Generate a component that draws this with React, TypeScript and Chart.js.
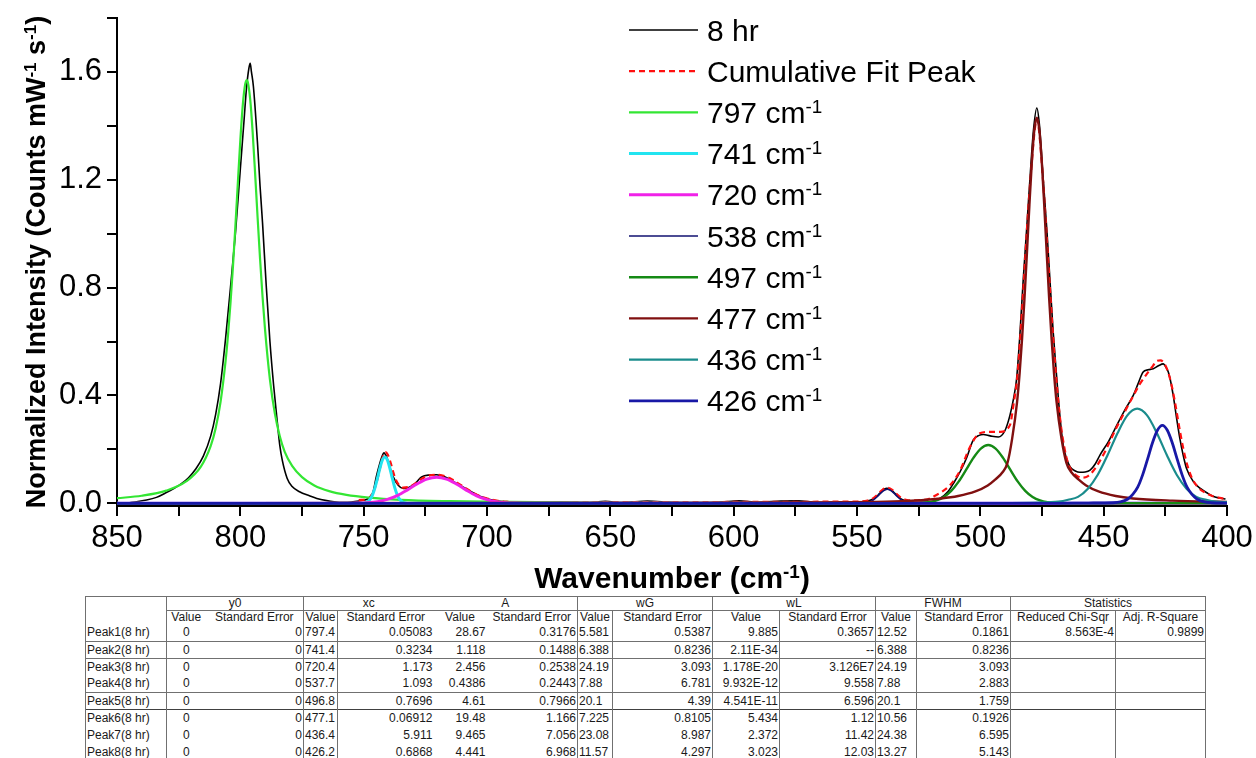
import React, { useEffect, useRef } from 'react';
import { Chart, registerables } from 'chart.js';

Chart.register(...registerables);

const FONT = "'Liberation Sans', Arial, Helvetica, sans-serif";

// ---------------- Spectrum (8 hr) ----------------
const SPEC_X = [845, 842, 838, 834, 830, 827, 824, 821, 818, 815, 812, 810, 808, 806, 804, 802, 800, 798.5, 797.5, 796.5, 796, 795.5, 794.7, 793, 792, 791, 789.5, 788, 786.5, 785, 784, 783, 781, 779, 776, 772, 769, 765, 762, 758, 755, 752, 750, 748.5, 747.5, 746.2, 744.9, 743.5, 742.5, 741.8, 740.7, 739.4, 738, 736, 734, 731.9, 729.2, 726.5, 723.1, 720.4, 717.7, 715, 711, 706.9, 702.9, 698.8, 694.8, 690, 680, 670, 660, 652, 645, 635, 625, 615, 605, 598, 590, 581, 574, 566, 558, 552, 548, 545, 543, 541, 539.5, 538, 536.5, 535, 533, 531, 528, 524, 520, 516.4, 513, 510.5, 508.2, 505.5, 502.9, 500.5, 498.8, 496, 492.7, 490, 488, 486.5, 485.3, 484, 482.6, 481.2, 479.9, 478.5, 477.1, 476, 474.5, 473, 471.8, 470.5, 469, 467.7, 466.4, 465, 463.6, 461.5, 459.6, 457.5, 455.5, 453.5, 451.5, 448, 444.7, 441.5, 438, 436, 434, 432, 429.9, 427.8, 425.8, 424.8, 423.8, 422.8, 421.8, 420.5, 419.1, 417.8, 416.4, 413.6, 410.8, 408, 405.4, 402.5, 400.6];
const SPEC_Y = [0.002, 0.006, 0.012, 0.022, 0.040, 0.055, 0.072, 0.095, 0.128, 0.175, 0.250, 0.330, 0.445, 0.610, 0.800, 1.000, 1.240, 1.420, 1.540, 1.615, 1.632, 1.600, 1.546, 1.330, 1.176, 1.040, 0.807, 0.600, 0.437, 0.300, 0.215, 0.160, 0.092, 0.062, 0.043, 0.028, 0.018, 0.010, 0.006, 0.004, 0.005, 0.008, 0.011, 0.016, 0.023, 0.042, 0.098, 0.147, 0.175, 0.187, 0.172, 0.135, 0.098, 0.067, 0.055, 0.058, 0.073, 0.098, 0.105, 0.106, 0.100, 0.088, 0.067, 0.046, 0.026, 0.014, 0.007, 0.004, 0.003, 0.005, 0.003, 0.007, 0.003, 0.008, 0.004, 0.003, 0.005, 0.009, 0.004, 0.008, 0.009, 0.004, 0.006, 0.005, 0.006, 0.010, 0.018, 0.035, 0.050, 0.056, 0.052, 0.040, 0.022, 0.011, 0.006, 0.005, 0.006, 0.018, 0.045, 0.080, 0.117, 0.170, 0.234, 0.252, 0.255, 0.250, 0.246, 0.270, 0.326, 0.390, 0.462, 0.620, 0.831, 1.020, 1.201, 1.380, 1.466, 1.400, 1.201, 1.010, 0.831, 0.640, 0.462, 0.320, 0.216, 0.165, 0.135, 0.120, 0.115, 0.116, 0.123, 0.145, 0.179, 0.230, 0.289, 0.345, 0.400, 0.445, 0.487, 0.495, 0.499, 0.510, 0.517, 0.505, 0.487, 0.450, 0.400, 0.320, 0.240, 0.180, 0.129, 0.080, 0.055, 0.038, 0.025, 0.019, 0.016];

// ---------------- Cumulative fit ----------------
const CUM_X = [752, 748, 746.5, 745, 744, 743, 742, 741.2, 740.2, 739, 738, 737, 735.5, 734, 732, 730, 727.5, 724.5, 721, 718, 715, 712, 709, 706, 703, 700, 696, 692, 688, 680, 650, 600, 560, 548, 545.7, 543.7, 541.7, 539.7, 537.7, 535.7, 533.7, 531.7, 529.7, 527, 524, 521, 518, 516, 512.3, 508.2, 504.2, 500.2, 496.1, 492, 488, 486.5, 485, 483.5, 482, 480.5, 479, 478, 477.1, 476.3, 475, 473.5, 472, 470.5, 469, 467.5, 466, 464.5, 462.5, 460.5, 458.5, 456.5, 454.5, 452, 449, 445.5, 442, 438.5, 435.5, 432.5, 430, 428.5, 427, 425.5, 424, 422.5, 421, 419.5, 418, 416.5, 414.5, 412, 409, 406, 403, 400];
const CUM_Y = [0.012, 0.018, 0.035, 0.070, 0.105, 0.145, 0.178, 0.190, 0.180, 0.148, 0.115, 0.088, 0.066, 0.058, 0.060, 0.068, 0.085, 0.100, 0.106, 0.103, 0.093, 0.076, 0.058, 0.041, 0.027, 0.018, 0.010, 0.006, 0.004, 0.004, 0.004, 0.005, 0.006, 0.007, 0.010, 0.017, 0.032, 0.050, 0.058, 0.050, 0.032, 0.018, 0.012, 0.011, 0.012, 0.016, 0.030, 0.040, 0.067, 0.122, 0.209, 0.260, 0.265, 0.265, 0.290, 0.370, 0.470, 0.660, 0.880, 1.100, 1.280, 1.380, 1.425, 1.390, 1.250, 1.050, 0.830, 0.620, 0.440, 0.300, 0.210, 0.150, 0.115, 0.100, 0.095, 0.100, 0.117, 0.150, 0.200, 0.268, 0.330, 0.390, 0.440, 0.480, 0.510, 0.528, 0.530, 0.520, 0.490, 0.440, 0.370, 0.290, 0.215, 0.155, 0.100, 0.062, 0.040, 0.027, 0.020, 0.015];

// ---------------- Fitted peaks ----------------
const P797_X = [850, 840, 830, 822, 816, 812, 810, 808, 806, 805, 804, 803, 802, 801, 800, 799, 798, 797.4, 797, 796, 795, 794, 793, 792, 791, 790, 788, 786, 784, 782, 779, 775, 770, 764, 757, 748, 735, 715, 690, 650, 600, 500, 400];
const P797_Y = [0.019, 0.028, 0.047, 0.081, 0.136, 0.213, 0.278, 0.377, 0.526, 0.624, 0.741, 0.877, 1.029, 1.190, 1.347, 1.478, 1.556, 1.570, 1.564, 1.498, 1.376, 1.222, 1.060, 0.906, 0.767, 0.646, 0.459, 0.333, 0.249, 0.191, 0.139, 0.097, 0.066, 0.045, 0.031, 0.021, 0.013, 0.008, 0.005, 0.002, 0.0014, 0.0007, 0.0004];

const P741_X = [850, 752, 749.4, 748.4, 747.4, 746.4, 745.4, 744.4, 743.4, 742.4, 741.4, 740.4, 739.4, 738.4, 737.4, 736.4, 735.4, 734.4, 733.4, 731, 400];
const P741_Y = [0, 0, 0.0022, 0.0062, 0.0149, 0.0315, 0.058, 0.0933, 0.131, 0.161, 0.172, 0.161, 0.131, 0.0933, 0.058, 0.0315, 0.0149, 0.0062, 0.0022, 0, 0];

const P720_X = [850, 756, 752.4, 748.4, 744.4, 740.4, 736.4, 732.4, 728.4, 724.4, 720.4, 716.4, 712.4, 708.4, 704.4, 700.4, 696.4, 692.4, 688.4, 684, 400];
const P720_Y = [0, 0, 0.0008, 0.0024, 0.0063, 0.0146, 0.0288, 0.049, 0.0716, 0.0899, 0.097, 0.0899, 0.0716, 0.049, 0.0288, 0.0146, 0.0063, 0.0024, 0.0008, 0, 0];

const P538_X = [850, 550, 547.7, 545.7, 544.7, 543.7, 542.7, 541.7, 540.7, 539.7, 538.7, 537.7, 536.7, 535.7, 534.7, 533.7, 532.7, 531.7, 530.7, 529.7, 527.7, 525, 400];
const P538_Y = [0, 0, 0.0006, 0.003, 0.0058, 0.0104, 0.017, 0.0254, 0.0348, 0.0435, 0.0497, 0.052, 0.0497, 0.0435, 0.0348, 0.0254, 0.017, 0.0104, 0.0058, 0.003, 0.0006, 0, 0];

const P497_X = [850, 532, 526.8, 523.8, 520.8, 517.8, 514.8, 511.8, 508.8, 505.8, 502.8, 499.8, 496.8, 493.8, 490.8, 487.8, 484.8, 481.8, 478.8, 475.8, 472.8, 469.8, 466.8, 462, 400];
const P497_Y = [0, 0, 0.0004, 0.0015, 0.0041, 0.0105, 0.0234, 0.0461, 0.0804, 0.1239, 0.1687, 0.203, 0.216, 0.203, 0.1687, 0.1239, 0.0804, 0.0461, 0.0234, 0.0105, 0.0041, 0.0015, 0.0004, 0, 0];

const P477_X = [850, 700, 627, 577, 532, 516, 509, 502, 497, 494, 491, 489, 487.1, 485.1, 484.1, 483.1, 482.1, 481.1, 480.1, 479.1, 478.1, 477.1, 476.1, 475.1, 474.1, 473.1, 472.1, 471.1, 470.1, 469.1, 467.1, 465.1, 463.1, 460.1, 457.1, 452.1, 445.1, 438.1, 422.1, 400];
const P477_Y = [0.0005, 0.001, 0.0015, 0.003, 0.008, 0.018, 0.027, 0.044, 0.066, 0.088, 0.115, 0.150, 0.240, 0.376, 0.479, 0.608, 0.760, 0.930, 1.107, 1.269, 1.386, 1.430, 1.386, 1.269, 1.107, 0.930, 0.760, 0.608, 0.479, 0.376, 0.240, 0.150, 0.115, 0.088, 0.066, 0.044, 0.027, 0.018, 0.010, 0.005];

const P436_X = [850, 500, 480, 472.4, 468.4, 464.4, 460.4, 456.4, 452.4, 448.4, 444.4, 440.4, 436.4, 432.4, 428.4, 424.4, 420.4, 416.4, 412.4, 408.4, 404.4, 400];
const P436_Y = [0, 0.001, 0.002, 0.004, 0.006, 0.013, 0.0239, 0.0543, 0.106, 0.179, 0.260, 0.326, 0.351, 0.326, 0.260, 0.179, 0.106, 0.0543, 0.0239, 0.013, 0.006, 0.004];

const P426_X = [850, 470, 456.2, 446.2, 443.2, 440.2, 438.2, 436.2, 434.2, 432.2, 430.2, 428.2, 426.2, 424.2, 422.2, 420.2, 418.2, 416.2, 414.2, 412.2, 409.2, 406.2, 400];
const P426_Y = [0, 0, 0.001, 0.002, 0.005, 0.016, 0.033, 0.0598, 0.1055, 0.164, 0.2247, 0.271, 0.289, 0.271, 0.2247, 0.164, 0.1055, 0.0598, 0.033, 0.016, 0.005, 0.002, 0.001];

// ---------------- Series meta ----------------
const SERIES_NAMES = ['8 hr', 'Cumulative Fit Peak', '797', '741', '720', '538', '497', '477', '436', '426'];
const SERIES_COLORS = ['#000000', '#ff1010', '#33e633', '#22e4f0', '#f022e8', '#101070', '#158a15', '#801010', '#1a8c8c', '#1818a6'];
const SERIES_WIDTHS = [1.6, 2.2, 2.2, 3, 3, 1.6, 2.4, 2.4, 2.2, 2.8];
const SERIES_ORDER = [11, 10, 9, 8, 7, 6, 5, 4, 3, 2];
const SERIES_X = [SPEC_X, CUM_X, P797_X, P741_X, P720_X, P538_X, P497_X, P477_X, P436_X, P426_X];
const SERIES_Y = [SPEC_Y, CUM_Y, P797_Y, P741_Y, P720_Y, P538_Y, P497_Y, P477_Y, P436_Y, P426_Y];

// ---------------- Table ----------------
const ROW_NAMES = ['Peak1(8 hr)', 'Peak2(8 hr)', 'Peak3(8 hr)', 'Peak4(8 hr)', 'Peak5(8 hr)', 'Peak6(8 hr)', 'Peak7(8 hr)', 'Peak8(8 hr)'];
const Y0_VAL = ['0', '0', '0', '0', '0', '0', '0', '0'];
const Y0_SE = ['0', '0', '0', '0', '0', '0', '0', '0'];
const XC_VAL = ['797.4', '741.4', '720.4', '537.7', '496.8', '477.1', '436.4', '426.2'];
const XC_SE = ['0.05083', '0.3234', '1.173', '1.093', '0.7696', '0.06912', '5.911', '0.6868'];
const A_VAL = ['28.67', '1.118', '2.456', '0.4386', '4.61', '19.48', '9.465', '4.441'];
const A_SE = ['0.3176', '0.1488', '0.2538', '0.2443', '0.7966', '1.166', '7.056', '6.968'];
const WG_VAL = ['5.581', '6.388', '24.19', '7.88', '20.1', '7.225', '23.08', '11.57'];
const WG_SE = ['0.5387', '0.8236', '3.093', '6.781', '4.39', '0.8105', '8.987', '4.297'];
const WL_VAL = ['9.885', '2.11E-34', '1.178E-20', '9.932E-12', '4.541E-11', '5.434', '2.372', '3.023'];
const WL_SE = ['0.3657', '--', '3.126E7', '9.558', '6.596', '1.12', '11.42', '12.03'];
const FWHM_VAL = ['12.52', '6.388', '24.19', '7.88', '20.1', '10.56', '24.38', '13.27'];
const FWHM_SE = ['0.1861', '0.8236', '3.093', '2.883', '1.759', '0.1926', '6.595', '5.143'];
const CHI_SQR = ['8.563E-4', '', '', '', '', '', '', ''];
const ADJ_R2 = ['0.9899', '', '', '', '', '', '', ''];
const GROUPS = ['y0', 'xc', 'A', 'wG', 'wL', 'FWHM', 'Statistics'];
const SUB_HEADERS = ['Value', 'Standard Error', 'Value', 'Standard Error', 'Value', 'Standard Error', 'Value', 'Standard Error', 'Value', 'Standard Error', 'Value', 'Standard Error', 'Reduced Chi-Sqr', 'Adj. R-Square'];

type Part = { t: string; sup?: boolean };

function fnt(size: number, bold: boolean) {
  return `${bold ? 'bold ' : ''}${size}px ${FONT}`;
}
function richWidth(ctx: CanvasRenderingContext2D, parts: Part[], size: number, bold: boolean) {
  let w = 0;
  for (const p of parts) {
    ctx.font = fnt(p.sup ? size * 0.63 : size, bold);
    w += ctx.measureText(p.t).width;
  }
  return w;
}
function drawRich(ctx: CanvasRenderingContext2D, parts: Part[], x: number, y: number, size: number, bold: boolean) {
  let cx = x;
  for (const p of parts) {
    const s = p.sup ? size * 0.63 : size;
    ctx.font = fnt(s, bold);
    ctx.fillText(p.t, cx, p.sup ? y - size * 0.33 : y);
    cx += ctx.measureText(p.t).width;
  }
}
function labelParts(name: string): Part[] {
  if (/^\d+$/.test(name)) return [{ t: name + ' cm' }, { t: '-1', sup: true }];
  return [{ t: name }];
}

const overlayPlugin = {
  id: 'overlay',
  afterDraw(chart: any) {
    const ctx: CanvasRenderingContext2D = chart.ctx;
    const area = chart.chartArea;
    ctx.save();
    ctx.fillStyle = '#000';
    ctx.textAlign = 'left';
    ctx.textBaseline = 'alphabetic';
    // legend
    chart.data.datasets.forEach((ds: any, i: number) => {
      const y = 30 + i * 41.2;
      ctx.beginPath();
      ctx.setLineDash(ds.borderDash || []);
      ctx.strokeStyle = ds.borderColor;
      ctx.lineWidth = ds.borderWidth;
      ctx.moveTo(629, y);
      ctx.lineTo(698, y);
      ctx.stroke();
      ctx.setLineDash([]);
      drawRich(ctx, labelParts(SERIES_NAMES[i]), 707, y + 10.5, 30, false);
    });
    // x title
    const xt: Part[] = [{ t: 'Wavenumber (cm' }, { t: '-1', sup: true }, { t: ')' }];
    const xw = richWidth(ctx, xt, 30, true);
    drawRich(ctx, xt, (area.left + area.right) / 2 - xw / 2, 588, 30, true);
    // y title
    const yt: Part[] = [{ t: 'Normalized Intensity (Counts mW' }, { t: '-1', sup: true }, { t: ' s' }, { t: '-1', sup: true }, { t: ')' }];
    const yw = richWidth(ctx, yt, 27, true);
    ctx.translate(45, (area.top + area.bottom) / 2);
    ctx.rotate(-Math.PI / 2);
    drawRich(ctx, yt, -yw / 2, 0, 27, true);
    ctx.restore();
  },
};

function SpectrumChart() {
  const ref = useRef<HTMLCanvasElement | null>(null);
  useEffect(() => {
    if (!ref.current) return;
    const datasets = SERIES_NAMES.map((name, i) => ({
      label: name,
      data: SERIES_X[i].map((x, j) => ({ x, y: SERIES_Y[i][j] })),
      borderColor: SERIES_COLORS[i],
      backgroundColor: SERIES_COLORS[i],
      borderWidth: SERIES_WIDTHS[i],
      borderDash: i === 1 ? [6, 4] : [],
      pointRadius: 0,
      fill: false,
      cubicInterpolationMode: 'monotone' as const,
      order: SERIES_ORDER[i],
    }));
    const chart = new Chart(ref.current, {
      type: 'line',
      data: { datasets },
      plugins: [overlayPlugin],
      options: {
        animation: false,
        responsive: false,
        devicePixelRatio: 1,
        layout: { padding: { left: 0, right: 29, top: 18, bottom: 0 } },
        plugins: { legend: { display: false }, tooltip: { enabled: false } },
        scales: {
          x: {
            type: 'linear',
            reverse: true,
            min: 400,
            max: 850,
            afterFit: (s: any) => { s.height = 90; s.paddingLeft = 0; s.paddingRight = 0; },
            border: { display: true, color: '#000', width: 2 },
            grid: { display: true, drawOnChartArea: false, drawTicks: true, tickLength: 10, color: '#000', lineWidth: 2 },
            ticks: {
              stepSize: 25,
              autoSkip: false,
              maxRotation: 0,
              padding: 4,
              color: '#000',
              font: { size: 31, family: FONT },
              callback: (v: any) => (Number(v) % 50 === 0 ? String(v) : ''),
            },
          },
          y: {
            type: 'linear',
            min: -0.01,
            max: 1.8,
            afterFit: (s: any) => { s.width = 117; s.paddingTop = 0; s.paddingBottom = 0; },
            border: { display: true, color: '#000', width: 2 },
            grid: { display: true, drawOnChartArea: false, drawTicks: true, tickLength: 10, color: '#000', lineWidth: 2 },
            ticks: {
              stepSize: 0.2,
              includeBounds: false,
              padding: 5,
              color: '#000',
              font: { size: 31, family: FONT },
              callback: (v: any) => {
                const n = Number(v);
                const k = Math.round(n * 5);
                if (Math.abs(n - k / 5) > 1e-6) return null;
                return k % 2 === 0 ? (k / 5).toFixed(1) : '';
              },
            },
          },
        },
      } as any,
    });
    return () => chart.destroy();
  }, []);
  return <canvas ref={ref} width={1256} height={596} style={{ display: 'block' }} />;
}

const COL_WIDTHS = [81, 39, 98, 34, 96, 53, 91, 35, 100, 67, 96, 41, 94, 105, 90];
const LEFT_LINE = [true, true, false, true, true, false, false, true, true, true, true, true, true, true, true];
const ALIGN: ('left' | 'right' | 'center')[] = ['left', 'center', 'right', 'left', 'right', 'right', 'right', 'left', 'right', 'right', 'right', 'left', 'right', 'right', 'right'];
const LINE_C = '#707070';

function ResultsTable() {
  const cols = [ROW_NAMES, Y0_VAL, Y0_SE, XC_VAL, XC_SE, A_VAL, A_SE, WG_VAL, WG_SE, WL_VAL, WL_SE, FWHM_VAL, FWHM_SE, CHI_SQR, ADJ_R2];
  const groupSpan = [2, 2, 2, 2, 2, 2, 2];
  const groupLines = [true, true, false, true, true, true, true];
  const topLine = [false, true, true, false, true, true, false, false];
  const cellBase: React.CSSProperties = { padding: '0 1px', whiteSpace: 'nowrap', overflow: 'hidden', color: '#1a1a1a', lineHeight: '13px' };
  return (
    <table style={{ position: 'absolute', left: 85, top: 596, borderCollapse: 'collapse', tableLayout: 'fixed', width: 1120, font: `12px ${FONT}` }}>
      <colgroup>
        {COL_WIDTHS.map((w, i) => <col key={i} style={{ width: w }} />)}
      </colgroup>
      <tbody>
        <tr style={{ height: 14 }}>
          <td rowSpan={2} style={{ ...cellBase, borderTop: `1px solid ${LINE_C}`, borderLeft: `1px solid ${LINE_C}`, borderRight: `1px solid ${LINE_C}` }} />
          {GROUPS.map((g, i) => (
            <td key={g} colSpan={groupSpan[i]} style={{ ...cellBase, textAlign: 'center', borderTop: `1px solid ${LINE_C}`, borderBottom: `1px solid ${LINE_C}`, borderLeft: groupLines[i] ? `1px solid ${LINE_C}` : 'none', borderRight: i === GROUPS.length - 1 ? `1px solid ${LINE_C}` : 'none' }}>{g}</td>
          ))}
        </tr>
        <tr style={{ height: 14 }}>
          {SUB_HEADERS.map((h, i) => (
            <td key={i} style={{ ...cellBase, textAlign: 'center', borderLeft: LEFT_LINE[i + 1] && i !== 0 ? `1px solid ${LINE_C}` : 'none', borderRight: i === SUB_HEADERS.length - 1 ? `1px solid ${LINE_C}` : 'none' }}>{h}</td>
          ))}
        </tr>
        {ROW_NAMES.map((_, r) => (
          <tr key={r} style={{ height: 17 }}>
            {cols.map((c, ci) => (
              <td key={ci} style={{ ...cellBase, textAlign: ALIGN[ci], borderLeft: LEFT_LINE[ci] ? `1px solid ${LINE_C}` : 'none', borderRight: ci === cols.length - 1 ? `1px solid ${LINE_C}` : 'none', borderTop: topLine[r] ? `1px solid ${r === 5 ? '#404040' : LINE_C}` : 'none' }}>{c[r]}</td>
            ))}
          </tr>
        ))}
      </tbody>
    </table>
  );
}

export default function App() {
  return (
    <div style={{ position: 'absolute', left: 0, top: 0, width: 1256, height: 758, background: '#fff', overflow: 'hidden' }}>
      <SpectrumChart />
      <ResultsTable />
    </div>
  );
}
